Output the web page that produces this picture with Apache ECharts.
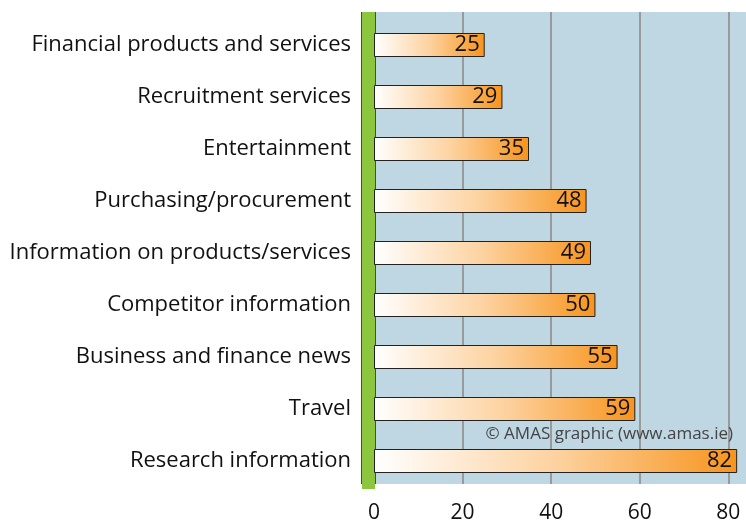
<!DOCTYPE html>
<html>
<head>
<meta charset="utf-8">
<script src="https://cdn.jsdelivr.net/npm/echarts@6/dist/echarts.min.js"></script>
<style>
  html, body { margin: 0; padding: 0; background: #fff; }
  #chart { width: 746px; height: 524px; }
</style>
</head>
<body>
<div id="chart"></div>
<script>
// categories top to bottom
var categories = [
  'Financial products and services',
  'Recruitment services',
  'Entertainment',
  'Purchasing/procurement',
  'Information on products/services',
  'Competitor information',
  'Business and finance news',
  'Travel',
  'Research information'
];
var values = [25, 29, 35, 48, 49, 50, 55, 59, 82];
var xTicks = [0, 20, 40, 60, 80];

var FONT = '"Open Sans", "Noto Sans", sans-serif';
var xMax = 84;

var myChart = echarts.init(document.getElementById('chart'));

myChart.setOption({
  backgroundColor: '#fff',
  animation: false,
  title: {
    text: '\u00a9 AMAS graphic (www.amas.ie)',
    right: 8,
    top: 421,
    textStyle: { fontFamily: FONT, fontSize: 17, fontWeight: 'normal', color: '#444' }
  },
  grid: [
    // background + gridlines
    { left: 374, right: 0, top: 12, bottom: 35, show: true, backgroundColor: '#bfd6e3', borderWidth: 0 },
    // bars
    { left: 374, right: 0, top: 19, bottom: 37 },
    // green axis fill (same box as grid 0)
    { left: 374, right: 0, top: 12, bottom: 35 }
  ],
  xAxis: [
    {
      gridIndex: 0, type: 'value', min: 0, max: xMax, interval: 20,
      axisLine: { show: false }, axisTick: { show: false },
      splitLine: { show: true, showMinLine: false, showMaxLine: false, lineStyle: { color: '#9a9a9a', width: 2 } },
      axisLabel: {
        show: true, margin: 19, fontFamily: FONT, fontSize: 21, color: '#111', showMaxLabel: false,
        formatter: function (v) { return xTicks.indexOf(v) >= 0 ? v : ''; }
      }
    },
    { gridIndex: 1, type: 'value', min: 0, max: xMax, show: false },
    { gridIndex: 2, type: 'value', min: 0, max: xMax, show: false }
  ],
  yAxis: [
    // dark outline of the green axis bar
    {
      gridIndex: 0, type: 'value', offset: 6, position: 'left',
      axisLine: { show: true, onZero: false, lineStyle: { color: '#3d5a1a', width: 15, cap: 'butt' } },
      axisTick: { show: false }, axisLabel: { show: false }, splitLine: { show: false }
    },
    {
      gridIndex: 1, type: 'category', data: categories, inverse: true,
      axisLine: { show: false }, axisTick: { show: false },
      axisLabel: { margin: 23, fontFamily: FONT, fontSize: 22, color: '#111' }
    },
    // green fill
    {
      gridIndex: 2, type: 'value', offset: 6, position: 'left',
      axisLine: { show: true, onZero: false, lineStyle: { color: '#8cc63e', width: 13, cap: 'butt' } },
      axisTick: { show: false }, axisLabel: { show: false }, splitLine: { show: false }
    }
  ],
  series: [
    {
      type: 'bar',
      xAxisIndex: 1,
      yAxisIndex: 1,
      data: values,
      barWidth: 24,
      itemStyle: {
        borderColor: '#222',
        borderWidth: 1,
        color: new echarts.graphic.LinearGradient(0, 0, 1, 0, [
          { offset: 0, color: '#ffffff' },
          { offset: 0.5, color: '#fdd2a0' },
          { offset: 1, color: '#f7941d' }
        ])
      },
      label: {
        show: true,
        position: 'insideRight',
        distance: 5,
        fontFamily: FONT,
        fontSize: 22,
        color: '#111'
      }
    }
  ]
});
</script>
</body>
</html>
